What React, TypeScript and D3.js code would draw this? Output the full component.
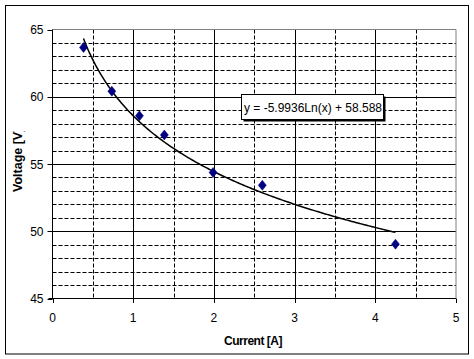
import React from "react";
import * as d3 from "d3";

const currentA = [0.384, 0.735, 1.077, 1.386, 1.99, 2.6, 4.25];
const voltageV = [63.66, 60.41, 58.58, 57.16, 54.37, 53.42, 49.04];
const xTicks = [0, 1, 2, 3, 4, 5];
const yTicks = [45, 50, 55, 60, 65];
const trendA = -5.9936;
const trendB = 58.588;
const equationLabel = "y = -5.9936Ln(x) + 58.588";

export default function App() {
  const W = 474, H = 359;
  const L = 52.5, R = 456, T = 29.5, B = 298.5;
  const x = d3.scaleLinear().domain([0, 5]).range([L, R]);
  const y = d3.scaleLinear().domain([45, 65]).range([B, T]);
  const font = "'Liberation Sans', Arial, sans-serif";

  const xMinor = d3.range(0.5, 5, 1);
  const yMinor = d3.range(46, 65, 1).filter((v) => v % 5 !== 0);
  const xMajor = [1, 2, 3, 4];
  const yMajor = [50, 55, 60];

  const xMin = d3.min(currentA)!;
  const xMax = d3.max(currentA)!;
  const trendPts = d3.range(0, 201).map((i) => {
    const xv = xMin + ((xMax - xMin) * i) / 200;
    return [xv, trendA * Math.log(xv) + trendB] as [number, number];
  });
  const line = d3
    .line<[number, number]>()
    .x((d) => x(d[0]))
    .y((d) => y(d[1]))
    .curve(d3.curveLinear);

  const diamond = (cx: number, cy: number, r = 5) =>
    `M${cx},${cy - r}L${cx + r - 1},${cy}L${cx},${cy + r}L${cx - r + 1},${cy}Z`;

  return (
    <svg
      width={W}
      height={H}
      style={{ position: "absolute", left: 0, top: 0, background: "#fff" }}
    >
      <defs>
        <clipPath id="ylab">
          <rect x={0} y={131} width={40} height={100} />
        </clipPath>
      </defs>
      <rect x={0} y={0} width={W} height={H} fill="#fff" />
      <rect x={5.5} y={5.5} width={463} height={348.5} fill="none" stroke="#000" strokeWidth={1} />

      {/* minor dashed grid */}
      {yMinor.map((v) => (
        <line key={"ym" + v} x1={L} x2={R} y1={Math.round(y(v)) + 0.5} y2={Math.round(y(v)) + 0.5}
          stroke="#000" strokeDasharray="4,2" strokeWidth={1} />
      ))}
      {xMinor.map((v) => (
        <line key={"xm" + v} x1={Math.round(x(v)) + 0.5} x2={Math.round(x(v)) + 0.5} y1={T} y2={B}
          stroke="#000" strokeDasharray="4,2" strokeWidth={1} />
      ))}
      {/* major grid */}
      {yMajor.map((v) => (
        <line key={"yM" + v} x1={L} x2={R} y1={Math.round(y(v)) + 0.5} y2={Math.round(y(v)) + 0.5}
          stroke="#000" strokeWidth={1} />
      ))}
      {xMajor.map((v) => (
        <line key={"xM" + v} x1={Math.round(x(v)) + 0.5} x2={Math.round(x(v)) + 0.5} y1={T} y2={B}
          stroke="#000" strokeWidth={1} />
      ))}
      {/* plot border top/right gray */}
      <line x1={L} x2={R} y1={T} y2={T} stroke="#808080" />
      <line x1={R} x2={R} y1={T} y2={B} stroke="#808080" />
      {/* axes */}
      <line x1={L} x2={L} y1={T} y2={B} stroke="#000" />
      <line x1={L - 4} x2={R} y1={B} y2={B} stroke="#000" />
      {yTicks.map((v) => (
        <g key={"yt" + v}>
          <line x1={L - 5} x2={L} y1={Math.round(y(v)) + 0.5} y2={Math.round(y(v)) + 0.5} stroke="#000" />
          <text x={L - 9} y={y(v) + 4.5} textAnchor="end" fontFamily={font} fontSize={12} fill="#000">
            {v}
          </text>
        </g>
      ))}
      {xTicks.map((v) => (
        <g key={"xt" + v}>
          <line x1={Math.round(x(v)) + 0.5} x2={Math.round(x(v)) + 0.5} y1={B} y2={B + 4.5} stroke="#000" />
          <text x={x(v)} y={322} textAnchor="middle" fontFamily={font} fontSize={12} fill="#000">
            {v}
          </text>
        </g>
      ))}

      {/* trendline */}
      <path d={line(trendPts) || ""} fill="none" stroke="#000" strokeWidth={1.5} />

      {/* points */}
      {currentA.map((c, i) => (
        <path key={"p" + i} d={diamond(x(c), y(voltageV[i]))} fill="#000080" stroke="#000080" strokeWidth={0.5} />
      ))}

      {/* equation box */}
      <rect x={243.5} y={96.5} width={142} height={25} fill="#000" />
      <rect x={241.5} y={94.5} width={142} height={25} fill="#fff" stroke="#000" />
      <text x={244} y={111.5} fontFamily={font} fontSize={12} fill="#000" textLength={138} lengthAdjust="spacingAndGlyphs">
        {equationLabel}
      </text>

      {/* axis titles */}
      <text x={253} y={345} textAnchor="middle" fontFamily={font} fontSize={12} fontWeight="bold" fill="#000"
        letterSpacing={-0.5}>
        Current [A]
      </text>
      <g clipPath="url(#ylab)">
        <text transform="translate(22,192) rotate(-90)" fontFamily={font} fontSize={12.5} fontWeight="bold" fill="#000">
          Voltage [V]
        </text>
      </g>
    </svg>
  );
}
